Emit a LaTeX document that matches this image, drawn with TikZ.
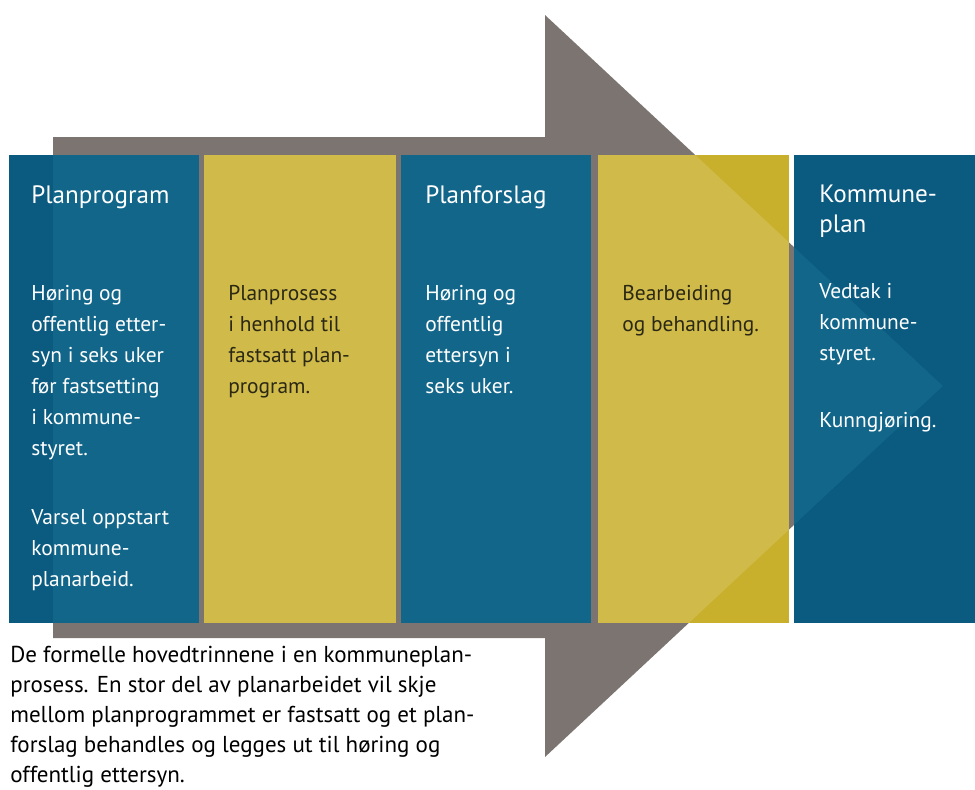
\documentclass[tikz,border=0pt]{standalone}
\usepackage{fontspec}
\setmainfont{PT Sans}
\usetikzlibrary{positioning}
\definecolor{planblue}{HTML}{0B5A80}
\definecolor{planblueL}{HTML}{12668A}
\definecolor{planyel}{HTML}{C9B02C}
\definecolor{planyelL}{HTML}{D0BB4A}
\definecolor{arrowgray}{HTML}{7C7471}
\definecolor{yeltext}{HTML}{2B2814}

\begin{document}
\begin{tikzpicture}[x=0.02cm,y=-0.02cm,
    title/.style={anchor=base west,inner sep=0pt,align=left,text=white,font=\fontsize{14.3}{17}\selectfont},
    body/.style={anchor=base west,inner sep=0pt,align=left,font=\fontsize{12.2}{17.6}\selectfont}]
              \useasboundingbox (0,0) rectangle (975,789);
              \fill[arrowgray] (53,137) -- (545,137) -- (545,15) -- (943,386) -- (545,757) -- (545,638) -- (53,638) -- cycle;
              \foreach \xa/\xb/\c in {9/199/planblue, 204/396/planyel, 401/591/planblue, 598/789/planyel, 794/975/planblue} \fill[\c] (\xa,155) rectangle (\xb,623);
              \begin{scope}
                \clip (53,137) -- (545,137) -- (545,15) -- (943,386) -- (545,757) -- (545,638) -- (53,638) -- cycle;
                \foreach \xa/\xb/\c in {9/199/planblueL, 204/396/planyelL, 401/591/planblueL, 598/789/planyelL, 794/975/planblueL} \fill[\c] (\xa,155) rectangle (\xb,623);
              \end{scope}
              % base anchor sits on the last line
              \node[title](t1)at(31,203){Planprogram};
              \node[body,text=white](h1)at(31,455){Høring og\\offentlig etter-\\syn i seks uker\\før fastsetting\\i kommune-\\styret.};
              \node[body,text=white](v1)at(31,586){Varsel oppstart\\kommune-\\planarbeid.};
              \node[body,text=yeltext](p2)at(228,393){Planprosess\\i henhold til\\fastsatt plan-\\program.};
              \node[title](t3)at(425,203){Planforslag};
              \node[body,text=white](h3)at(425,393){Høring og\\offentlig\\ettersyn i\\seks uker.};
              \node[body,text=yeltext](b4)at(622,331){Bearbeiding\\og behandling.};
              \node[title](t5)at(819,232){Kommune-\\plan};
              \node[body,text=white](v5)at(819,360){Vedtak i\\kommune-\\styret.};
              \node[body,text=white](k5)at(819,427){Kunngjøring.};
              \node[body,font=\fontsize{13.1}{17}\selectfont](cap)at(10,782){De formelle hovedtrinnene i en kommuneplan-\\prosess. En stor del av planarbeidet vil skje\\mellom planprogrammet er fastsatt og et plan-\\forslag behandles  og legges ut til høring og\\offentlig ettersyn.};
            \end{tikzpicture}
\end{document}
